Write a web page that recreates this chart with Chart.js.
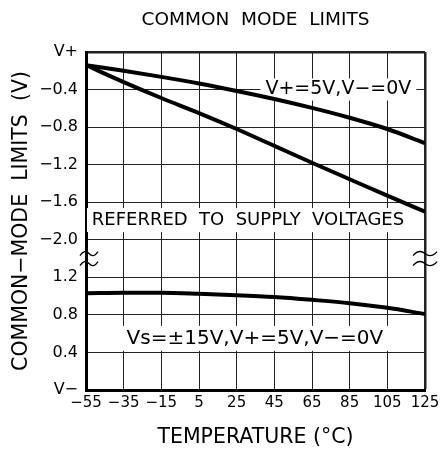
<!DOCTYPE html>
<html>
<head>
<meta charset="utf-8">
<script src="https://cdn.jsdelivr.net/npm/chart.js@4"></script>
<style>
  html, body { margin: 0; padding: 0; background: #fff; }
  #wrap { width: 448px; height: 450px; }
</style>
</head>
<body>
<div id="wrap"><canvas id="grafico"></canvas></div>
<script>
// temperatures (°C)
const temps = [-55, -35, -15, 5, 25, 45, 65, 85, 105, 125];
// upper limit, referred to V+ (V)
const upperLimit5V = [-0.14, -0.20, -0.265, -0.335, -0.415, -0.50, -0.595, -0.70, -0.82, -0.97];
const upperLimit15V = [-0.14, -0.32, -0.49, -0.65, -0.82, -1.00, -1.18, -1.355, -1.53, -1.70];
// lower limit, referred to V- (V)
const lowerLimit = [1.03, 1.035, 1.035, 1.025, 1.01, 0.99, 0.96, 0.925, 0.875, 0.81];
// y tick labels, bottom to top
const yTickLabels = ['V−', '0.4', '0.8', '1.2', '−2.0', '−1.6', '−1.2', '−0.8', '−0.4', 'V+'];

const FONT = 'DejaVu Sans';

function pts(ys) {
  return temps.map((t, i) => ({ x: t, y: ys[i] }));
}

// text with a white box behind it (hides grid)
function boxedText(ctx, txt, cx, cy, size, bw, bh) {
  ctx.save();
  ctx.fillStyle = '#fff';
  ctx.fillRect(cx - bw / 2, cy - bh / 2, bw, bh);
  ctx.font = size + 'px "' + FONT + '"';
  ctx.fillStyle = '#000';
  ctx.textAlign = 'center';
  ctx.textBaseline = 'middle';
  ctx.fillText(txt, cx, cy);
  ctx.restore();
}

function tilde(ctx, x0, cy, w) {
  ctx.beginPath();
  ctx.moveTo(x0, cy + 2);
  ctx.quadraticCurveTo(x0 + w / 4, cy - 5, x0 + w / 2, cy);
  ctx.quadraticCurveTo(x0 + 3 * w / 4, cy + 5, x0 + w, cy - 2);
  ctx.stroke();
}

const notes = {
  id: 'notes',
  beforeDatasetsDraw(chart) {
    const { ctx, scales } = chart;
    const x = scales.x, y = scales.y, y2 = scales.y2;
    boxedText(ctx, 'V+=5V,V−=0V', x.getPixelForValue(79), y.getPixelForValue(-0.4), 19, 156, 22);
    boxedText(ctx, 'REFERRED  TO  SUPPLY  VOLTAGES', x.getPixelForValue(31), y.getPixelForValue(-1.79), 18, 322, 24);
    boxedText(ctx, 'Vs=±15V,V+=5V,V−=0V', x.getPixelForValue(34.7), y2.getPixelForValue(0.55), 20, 268, 25);
  },
  afterDraw(chart) {
    const { ctx, chartArea, scales } = chart;
    const cy = scales.y.getPixelForValue(-2.2);
    ctx.save();
    ctx.strokeStyle = '#000';
    ctx.lineWidth = 1.3;
    tilde(ctx, chartArea.left - 6, cy - 5, 18);
    tilde(ctx, chartArea.left - 6, cy + 5, 18);
    tilde(ctx, chartArea.right - 12, cy - 5, 24);
    tilde(ctx, chartArea.right - 12, cy + 5, 24);
    ctx.restore();
  }
};

const line = (data, axis) => ({
  data: pts(data),
  yAxisID: axis,
  borderColor: '#000',
  borderWidth: 4,
  pointRadius: 0,
  fill: false,
  cubicInterpolationMode: 'monotone'
});

new Chart(document.getElementById('grafico'), {
  type: 'line',
  data: {
    datasets: [
      line(upperLimit5V, 'y'),
      line(upperLimit15V, 'y'),
      line(lowerLimit, 'y2')
    ]
  },
  options: {
    responsive: true,
    maintainAspectRatio: false,
    animation: false,
    layout: { padding: { left: 0, right: 23, top: 0, bottom: 0 } },
    plugins: {
      legend: { display: false },
      tooltip: { enabled: false },
      title: {
        display: true,
        fullSize: false,
        text: 'COMMON  MODE  LIMITS',
        color: '#000',
        font: { family: FONT, size: 18.5, weight: 'normal' },
        padding: { top: 9, bottom: 20.8 }
      }
    },
    scales: {
      x: {
        type: 'linear',
        min: -55,
        max: 125,
        afterFit(s) { s.height = 60; },
        ticks: {
          stepSize: 20,
          color: '#000',
          padding: 4,
          maxRotation: 0,
          font: { family: FONT, size: 15 },
          callback: v => String(v).replace('-', '−')
        },
        grid: {
          color: '#222',
          lineWidth: c => (c.index === 9 ? 2.5 : 1),
          drawTicks: false
        },
        border: { color: '#000', width: 3 },
        title: {
          display: true,
          text: 'TEMPERATURE (°C)',
          color: '#000',
          font: { family: FONT, size: 20.5 },
          padding: { top: 0, bottom: 0 }
        }
      },
      y: {
        type: 'linear',
        min: -3.6,
        max: 0,
        afterFit(s) { s.width = 86; },
        ticks: {
          stepSize: 0.4,
          color: '#000',
          padding: 8,
          font: { family: FONT, size: 16 },
          callback: (v, i) => yTickLabels[i]
        },
        grid: {
          color: '#222',
          lineWidth: c => (c.index === 9 ? 2.5 : 1),
          drawTicks: false
        },
        border: { color: '#000', width: 3 },
        title: {
          display: true,
          text: 'COMMON−MODE  LIMITS  (V)',
          color: '#000',
          font: { family: FONT, size: 20.5 },
          padding: { top: 9, bottom: 0 }
        }
      },
      y2: {
        type: 'linear',
        display: false,
        min: 0,
        max: 3.6
      }
    }
  },
  plugins: [notes]
});
</script>
</body>
</html>
